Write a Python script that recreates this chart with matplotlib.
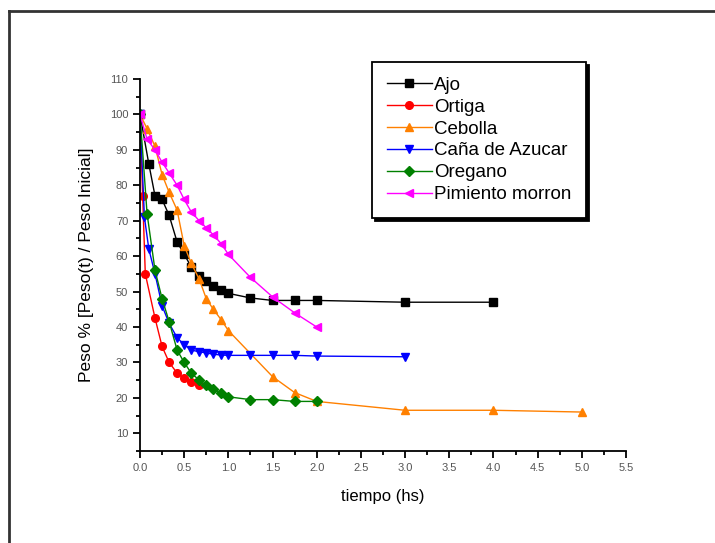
import numpy as np
import matplotlib
matplotlib.use("Agg")
import matplotlib.pyplot as plt
from matplotlib.lines import Line2D
from matplotlib.ticker import MultipleLocator, FormatStrFormatter

plt.rcParams['font.family'] = ['Liberation Sans', 'DejaVu Sans']

# Datos
ajo_t = [0, 0.1, 0.17, 0.25, 0.33, 0.42, 0.5, 0.58, 0.67, 0.75, 0.83, 0.92, 1.0, 1.25, 1.5, 1.75, 2.0, 3.0, 4.0]
ajo_p = [100, 86, 77, 76, 71.5, 64, 60.5, 57, 54.5, 53, 51.5, 50.5, 49.5, 48.2, 47.5, 47.5, 47.5, 47, 47]

ortiga_t = [0, 0.03, 0.06, 0.17, 0.25, 0.33, 0.42, 0.5, 0.58, 0.67]
ortiga_p = [100, 77, 55, 42.5, 34.5, 30, 27, 25.5, 24.5, 23.5]

cebolla_t = [0, 0.08, 0.17, 0.25, 0.33, 0.42, 0.5, 0.58, 0.67, 0.75, 0.83, 0.92, 1.0, 1.5, 1.75, 2.0, 3.0, 4.0, 5.0]
cebolla_p = [100, 96, 91, 83, 78, 73, 63, 58, 53.5, 48, 45, 42, 39, 26, 21.5, 19, 16.5, 16.5, 16]

cana_t = [0, 0.05, 0.1, 0.17, 0.25, 0.33, 0.42, 0.5, 0.58, 0.67, 0.75, 0.83, 0.92, 1.0, 1.25, 1.5, 1.75, 2.0, 3.0]
cana_p = [100, 71, 62, 55, 46, 41, 37, 35, 33.5, 33, 32.7, 32.3, 32.1, 32, 32, 32, 32, 31.8, 31.6]

oregano_t = [0, 0.08, 0.17, 0.25, 0.33, 0.42, 0.5, 0.58, 0.67, 0.75, 0.83, 0.92, 1.0, 1.25, 1.5, 1.75, 2.0]
oregano_p = [100, 72, 56, 48, 41.5, 33.5, 30, 27, 25, 23.5, 22.5, 21.3, 20.3, 19.5, 19.5, 19, 19]

pimiento_t = [0, 0.08, 0.17, 0.25, 0.33, 0.42, 0.5, 0.58, 0.67, 0.75, 0.83, 0.92, 1.0, 1.25, 1.5, 1.75, 2.0]
pimiento_p = [100, 93, 90, 86.5, 83.5, 80, 76, 72.5, 70, 68, 66, 63.5, 60.5, 54, 48.5, 44, 40]

series = [
    ("Ajo", ajo_t, ajo_p, "black", "s"),
    ("Ortiga", ortiga_t, ortiga_p, "red", "o"),
    ("Cebolla", cebolla_t, cebolla_p, "#ff8000", "^"),
    ("Caña de Azucar", cana_t, cana_p, "blue", "v"),
    ("Oregano", oregano_t, oregano_p, "green", "D"),
    ("Pimiento morron", pimiento_t, pimiento_p, "magenta", "<"),
]

fig = plt.figure(figsize=(7.15, 5.43), dpi=100)
ax = fig.add_axes([0.1958, 0.1694, 0.6797, 0.6851])

for name, t, p, c, m in series:
    ms = 5 if m == "D" else 5.5
    ax.plot(t, p, color=c, marker=m, markersize=ms, linewidth=1, label=name)

ax.set_xlim(0, 5.5)
ax.set_ylim(5, 110)
ax.xaxis.set_major_locator(MultipleLocator(0.5))
ax.xaxis.set_minor_locator(MultipleLocator(0.25))
ax.xaxis.set_major_formatter(FormatStrFormatter("%.1f"))
ax.yaxis.set_major_locator(MultipleLocator(10))
ax.yaxis.set_minor_locator(MultipleLocator(5))
ax.set_yticks(np.arange(10, 111, 10))

for s in ["top", "right"]:
    ax.spines[s].set_visible(False)
for s in ["left", "bottom"]:
    ax.spines[s].set_linewidth(1.3)

ax.tick_params(which="major", direction="out", length=5, width=1.3, labelsize=8, labelcolor="#555555")
ax.tick_params(which="minor", direction="out", length=3, width=1.3)

ax.set_xlabel("tiempo (hs)", fontsize=12, labelpad=12)
ax.set_ylabel("Peso % [Peso(t) / Peso Inicial]", fontsize=12.5, labelpad=11)

leg = ax.legend(loc="upper left", bbox_to_anchor=(0.477, 1.046), borderaxespad=0,
                fancybox=False, shadow={"color": "black", "alpha": 1, "ox": 2, "oy": -2},
                framealpha=1, edgecolor="black", fontsize=13.5, handlelength=2.4,
                handletextpad=0.1, labelspacing=0.25, borderpad=0.8)
leg.get_frame().set_linewidth(1.3)

# marco exterior
x0, y0 = 9 / 715, 1 - 11 / 543
fig.add_artist(Line2D([x0, x0], [0, y0], color="#333333", linewidth=2))
fig.add_artist(Line2D([x0, 1], [y0, y0], color="#333333", linewidth=2))

fig.savefig("out.png", dpi=100)
